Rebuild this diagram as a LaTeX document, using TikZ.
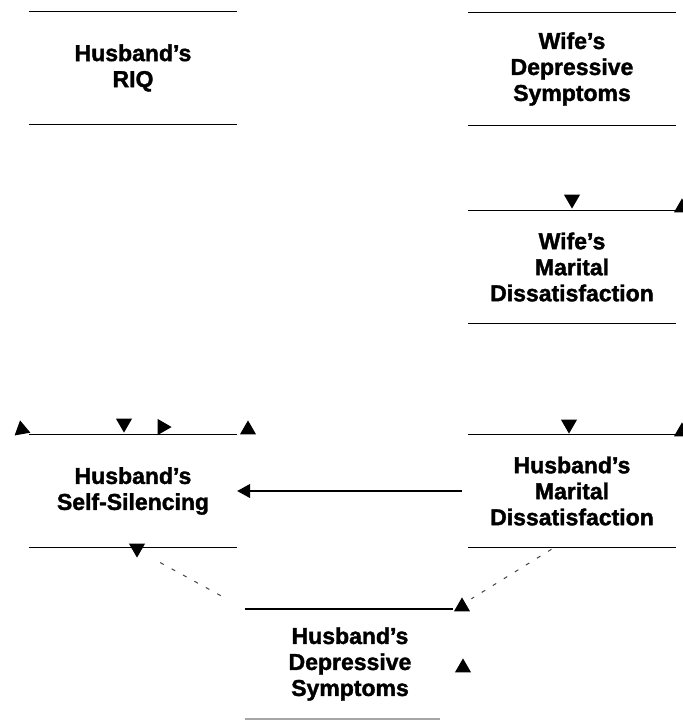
\documentclass[tikz,border=0pt]{standalone}
\usepackage{fontspec}
\setmainfont{Liberation Sans}[BoldFeatures={FakeBold=1.6}]
\usepackage{tikz}
\usetikzlibrary{shapes,arrows}
\usetikzlibrary{positioning}
\usetikzlibrary{arrows.meta}
\tikzstyle{var} = [rectangle, inner sep=0pt, minimum width=208pt,
    minimum height=113pt, text width=208pt, align=center,
    font=\fontsize{23}{26}\selectfont\bfseries]
\tikzstyle{rule} = [draw, line width=1.5pt]
\tikzstyle{line} = [draw, line width=1.3pt, -{Triangle[length=13pt,width=14pt]}]
\tikzstyle{fade} = [draw, line width=1pt, black!75, dash pattern=on 4pt off 9pt]
\tikzstyle{headmark} = [regular polygon, regular polygon sides=3, fill,
    inner sep=0pt, minimum size=18.5pt]

\begin{document}
\begin{tikzpicture}[x=1pt, y=-1pt, node distance=198pt]
  \useasboundingbox (0,0) rectangle (683,721);
  % Place nodes
  \node [var] (wdep) at (572,69) {Wife's\\ Depressive\\ Symptoms};
  \node [var, below of=wdep] (wmar) {Wife's\\ Marital\\ Dissatisfaction};
  \node [var, below of=wmar, node distance=224pt] (hmar) {Husband's\\ Marital\\ Dissatisfaction};
  \node [var, left of=hmar, node distance=439pt] (hsil) {Husband's\\ Self-Silencing};
  \node [var, above of=hsil, node distance=423pt] (riq) {Husband's\\ RIQ};
  \node [var, minimum width=210pt, minimum height=110pt] (hdep) at (350,664) {Husband's\\ Depressive\\ Symptoms};

  % Top and bottom rules of the boxes
  \foreach \n in {riq,wdep,wmar,hmar,hsil}
  { \path [rule] (\n.north west) -- (\n.north east);
    \path [rule] (\n.south west) -- (\n.south east); }
  \path [rule] (hdep.north west) -- ([xshift=-2pt]hdep.north east);
  \path [rule, black!35] (hdep.south west) -- ([xshift=-15pt]hdep.south east);

  % Draw edges
  \path [line] ([xshift=-6pt]hmar.west) -- (hmar.west -| hsil.east);
  \path [fade, shorten <=31pt, shorten >=19pt] (hsil.south) -- (hdep.north west);
  \path [fade, shorten <=3pt, shorten >=19pt] ([xshift=-18pt]hmar.south) -- (hdep.north east);

  % Arrow heads left without their lines
  \foreach \x/\y/\r [count=\i] in {572/209/180, 682/198/0, 569/434/180, 682/422/0,
      20/420/10, 124/433/180, 172/427/-90, 248/420/0, 137/558/180, 462/597/0, 463/658/0}
    \node [headmark, rotate=\r, anchor=corner 1] (head\i) at (\x,\y) {};
\end{tikzpicture}
\end{document}
